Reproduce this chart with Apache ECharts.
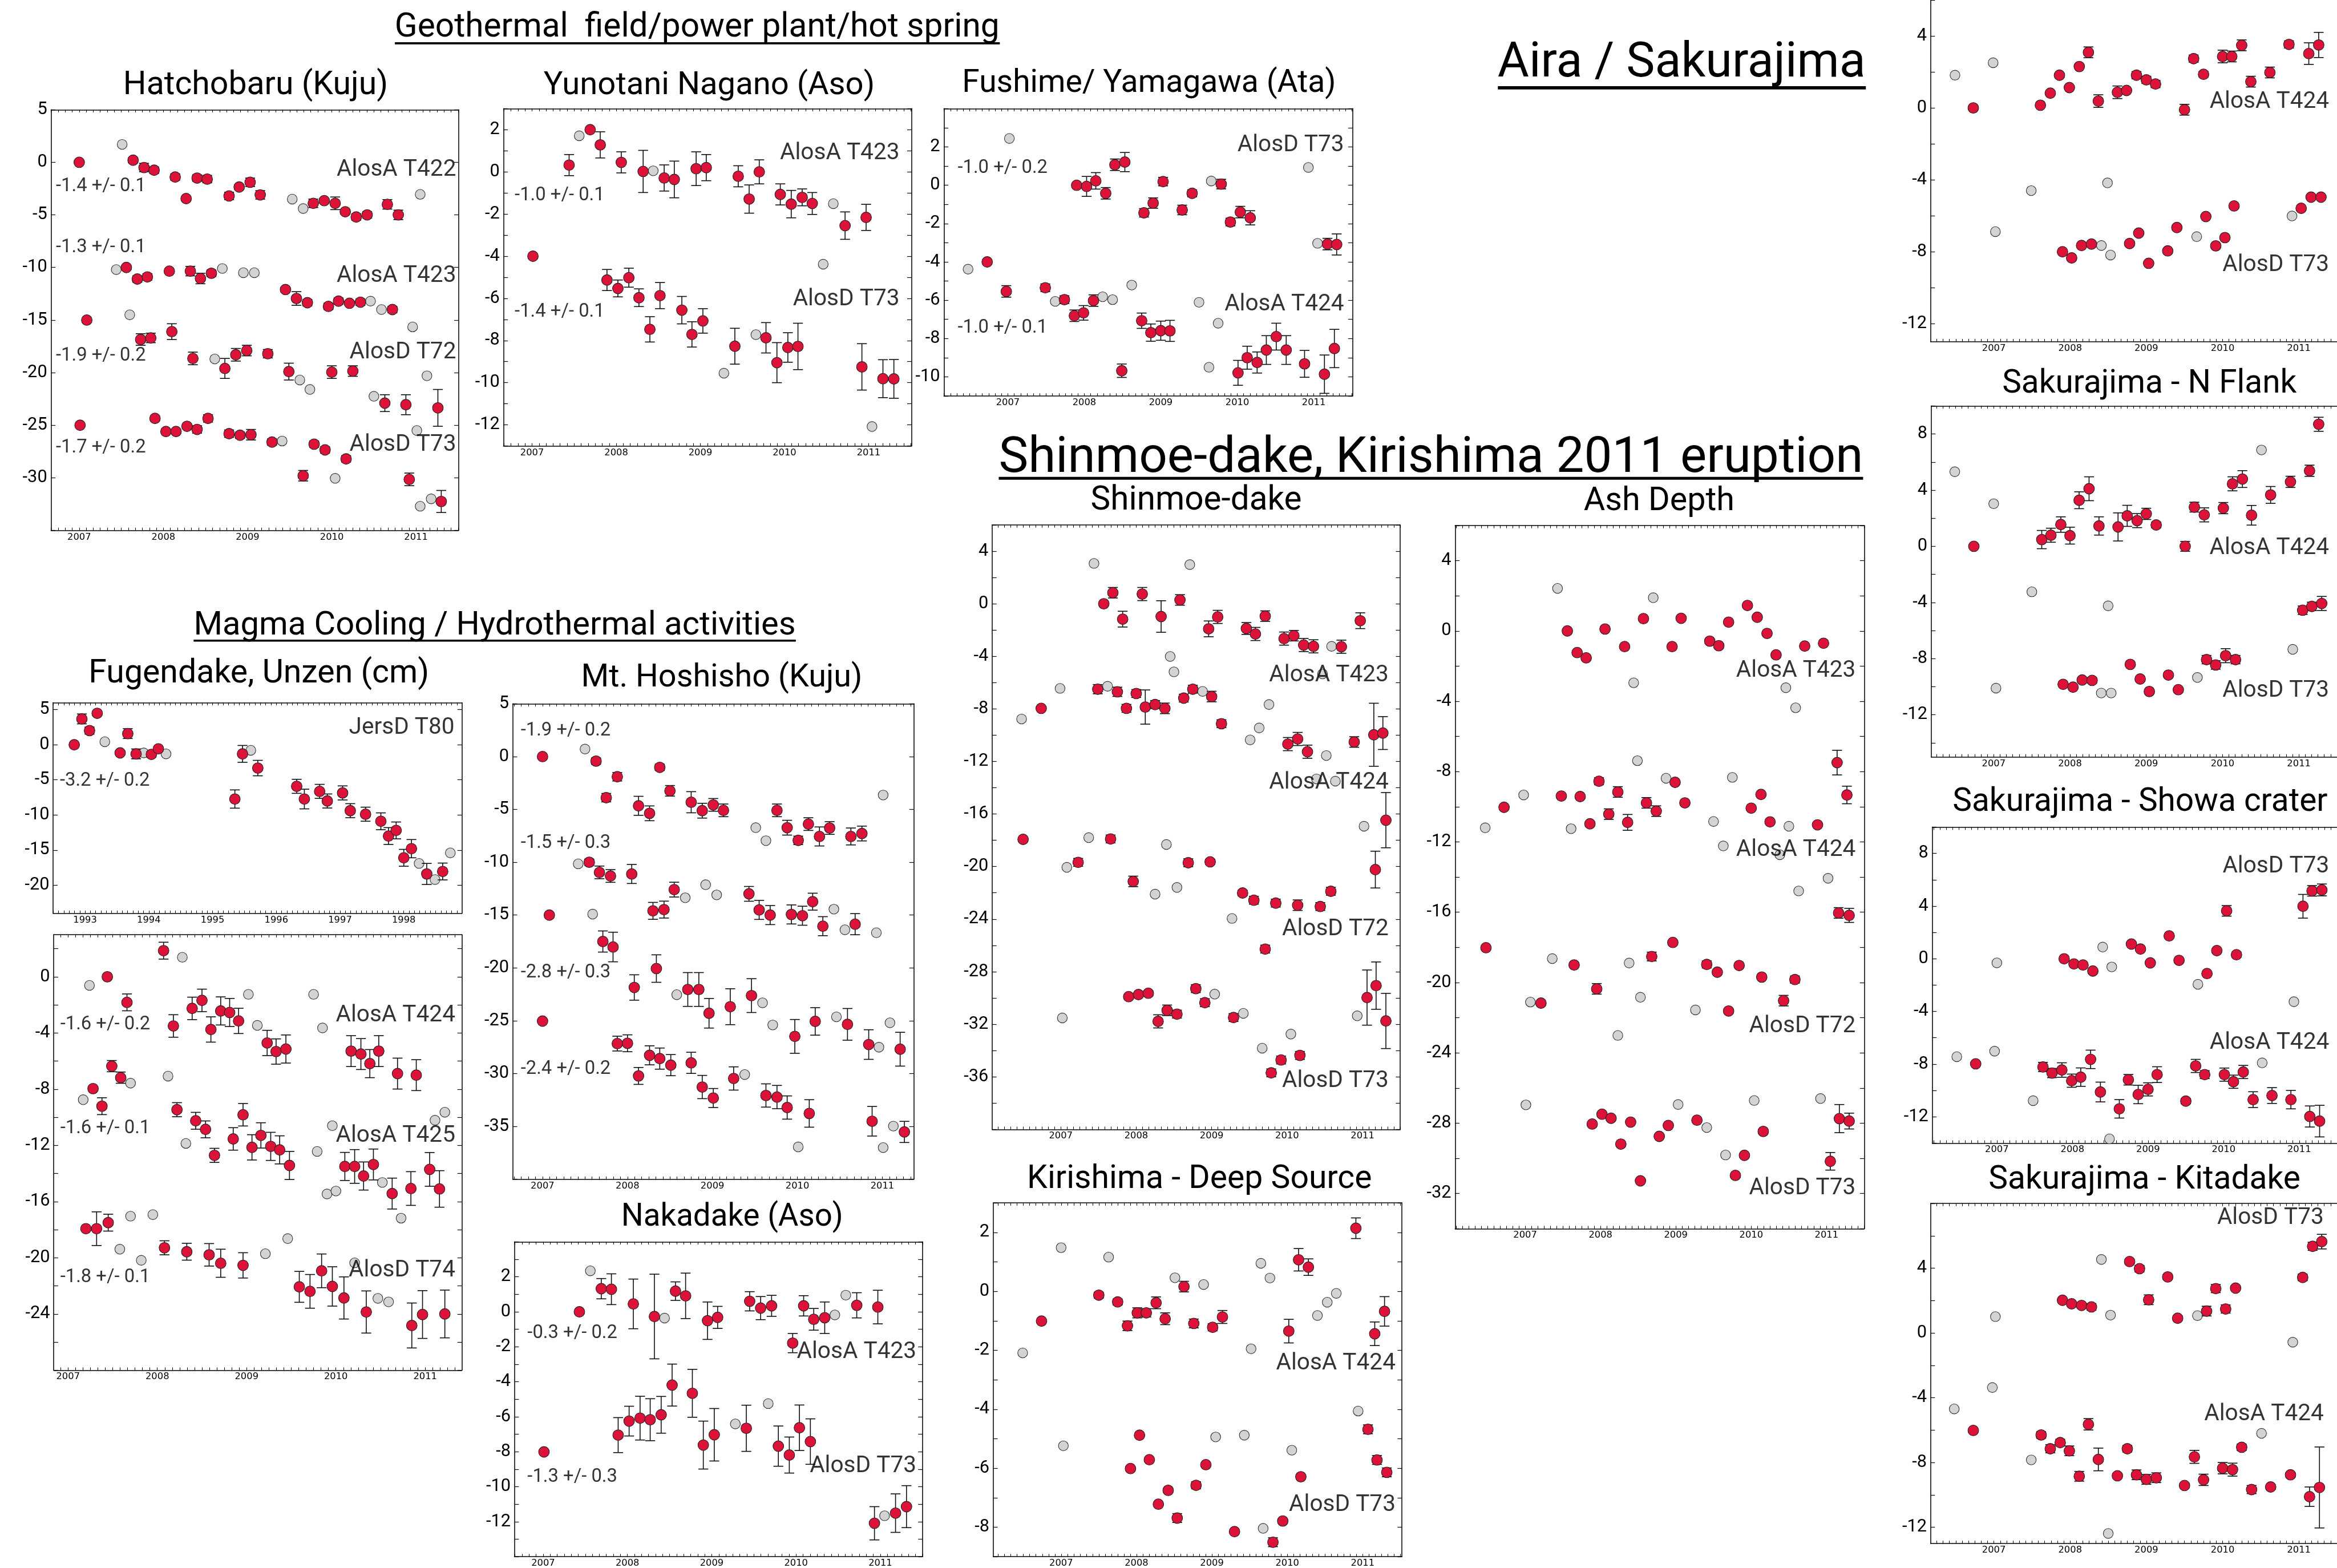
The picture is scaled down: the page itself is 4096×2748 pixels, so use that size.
<!DOCTYPE html>
<html><head><meta charset="utf-8">
<style>html,body{margin:0;padding:0;background:#fff}#c{width:4096px;height:2748px}</style>
<script src="https://cdn.jsdelivr.net/npm/echarts@6/dist/echarts.min.js"></script>
</head><body><div id="c"></div>
<script>
// ---------------- DATA: [year, value(cm), error] for red (InSAR) points, [year, value] for grey points
const yrs07 = [2007, 2008, 2009, 2010, 2011];
const yrs93 = [1993, 1994, 1995, 1996, 1997, 1998];

// Hatchobaru (Kuju)
const hat_A422 = [[2007.00,0,0],[2007.64,0.2,0.25],[2007.77,-0.5,0.4],[2007.89,-0.75,0.3],[2008.14,-1.4,0.3],[2008.27,-3.45,0],[2008.40,-1.5,0.3],[2008.52,-1.6,0.35],[2008.78,-3.2,0.35],[2008.90,-2.35,0.2],[2009.03,-1.9,0.4],[2009.15,-3.1,0.4],[2009.78,-3.9,0.4],[2009.91,-3.65,0.2],[2010.04,-3.9,0.6],[2010.16,-4.7,0.2],[2010.29,-5.2,0.3],[2010.42,-5.0,0.3],[2010.66,-4.0,0.45],[2010.79,-5.0,0.45]];
const hat_A423 = [[2007.56,-10.0,0.2],[2007.69,-11.1,0.3],[2007.81,-10.9,0.3],[2008.07,-10.35,0.2],[2008.32,-10.35,0.45],[2008.44,-11.05,0.5],[2008.57,-10.55,0.3],[2009.45,-12.1,0.25],[2009.58,-12.95,0.65],[2009.71,-13.35,0.3],[2009.96,-13.7,0.3],[2010.08,-13.2,0.3],[2010.21,-13.4,0.2],[2010.34,-13.3,0.3],[2010.72,-14.0,0.3]];
const hat_D72 = [[2007.09,-15.0,0],[2007.73,-16.85,0.55],[2007.85,-16.7,0.45],[2008.10,-16.1,0.75],[2008.35,-18.65,0.6],[2008.73,-19.6,0.95],[2008.86,-18.3,0.6],[2008.99,-17.9,0.5],[2009.24,-18.2,0.4],[2009.49,-19.9,0.8],[2010.00,-19.95,0.6],[2010.25,-19.85,0.5],[2010.63,-22.9,0.8],[2010.88,-23.05,0.95],[2011.26,-23.35,1.75]];
const hat_D73 = [[2007.01,-25.0,0],[2007.90,-24.35,0.25],[2008.03,-25.6,0.2],[2008.15,-25.6,0.2],[2008.28,-25.1,0.2],[2008.40,-25.4,0.35],[2008.53,-24.35,0.35],[2008.78,-25.8,0.35],[2008.91,-25.95,0.3],[2009.04,-25.9,0.5],[2009.29,-26.6,0.3],[2009.66,-29.8,0.5],[2009.79,-26.8,0.3],[2009.92,-27.35,0.3],[2010.17,-28.2,0.3],[2010.92,-30.15,0.6],[2011.30,-32.25,1.05]];
const hat_grey = [[2007.51,1.7],[2009.53,-3.5],[2009.66,-4.4],[2011.05,-3.05],[2007.44,-10.2],[2008.70,-10.1],[2008.95,-10.5],[2009.08,-10.5],[2010.46,-13.2],[2010.59,-14.0],[2010.96,-15.65],[2007.60,-14.5],[2008.61,-18.7],[2009.62,-20.7],[2009.74,-21.6],[2010.50,-22.25],[2011.13,-20.3],[2011.01,-25.5],[2009.41,-26.5],[2010.04,-30.05],[2011.05,-32.7],[2011.18,-32.0]];
const hat_yl = [5,0,-5,-10,-15,-20,-25,-30];
const hat_ann = [[2011.48,-0.75,'AlosA T422','R'],[2006.72,-2.3,'-1.4 +/- 0.1','L'],[2006.72,-8.1,'-1.3 +/- 0.1','L'],[2011.48,-10.8,'AlosA T423','R'],[2006.72,-18.4,'-1.9 +/- 0.2','L'],[2011.48,-18.1,'AlosD T72','R'],[2006.72,-27.15,'-1.7 +/- 0.2','L'],[2011.48,-26.9,'AlosD T73','R']];

// Yunotani Nagano (Aso)
const yun_A423 = [[2007.44,0.32,0.5],[2007.69,2.0,0],[2007.81,1.28,0.62],[2008.06,0.45,0.5],[2008.32,0.02,1.0],[2008.57,-0.29,0.62],[2008.69,-0.36,0.87],[2008.95,0.15,0.8],[2009.07,0.2,0.62],[2009.45,-0.21,0.5],[2009.58,-1.29,0.67],[2009.70,0.0,0.57],[2009.95,-1.07,0.5],[2010.08,-1.53,0.65],[2010.21,-1.21,0.4],[2010.33,-1.5,0.52],[2010.72,-2.55,0.65],[2010.97,-2.16,0.62]];
const yun_D73 = [[2007.01,-4.0,0],[2007.89,-5.13,0.5],[2008.02,-5.53,0.4],[2008.15,-5.02,0.45],[2008.27,-5.97,0.42],[2008.40,-7.47,0.6],[2008.52,-5.87,0.62],[2008.78,-6.56,0.65],[2008.90,-7.71,0.6],[2009.03,-7.07,0.58],[2009.41,-8.27,0.85],[2009.78,-7.87,0.72],[2009.91,-9.05,0.95],[2010.04,-8.33,0.7],[2010.16,-8.28,1.1],[2010.92,-9.25,1.1],[2011.17,-9.81,0.9],[2011.30,-9.82,0.92]];
const yun_grey = [[2007.56,1.71],[2008.44,0.05],[2010.58,-1.51],[2010.46,-4.38],[2009.28,-9.55],[2009.66,-7.72],[2011.04,-12.08]];
const yun_yl = [2,0,-2,-4,-6,-8,-10,-12];
const yun_ann = [[2011.37,0.88,'AlosA T423','R'],[2006.79,-1.12,'-1.0 +/- 0.1','L'],[2011.37,-6.05,'AlosD T73','R'],[2006.79,-6.66,'-1.4 +/- 0.1','L']];

// Fushime / Yamagawa (Ata)
const fus_D73 = [[2007.90,0.0,0],[2008.03,-0.06,0.52],[2008.15,0.23,0.43],[2008.28,-0.42,0.3],[2008.40,1.07,0.3],[2008.53,1.21,0.5],[2008.78,-1.44,0.22],[2008.90,-0.93,0.27],[2009.03,0.19,0.22],[2009.28,-1.29,0.25],[2009.41,-0.42,0.18],[2009.79,0.06,0.25],[2009.91,-1.92,0.2],[2010.04,-1.4,0.3],[2010.17,-1.7,0.37],[2011.18,-3.07,0.3],[2011.30,-3.09,0.55]];
const fus_A424 = [[2006.73,-4.0,0],[2006.98,-5.54,0.3],[2007.49,-5.35,0.2],[2007.74,-5.97,0.2],[2007.87,-6.81,0.3],[2007.99,-6.66,0.38],[2008.12,-6.02,0.3],[2008.49,-9.68,0.35],[2008.75,-7.07,0.4],[2008.87,-7.69,0.45],[2009.0,-7.59,0.5],[2009.12,-7.6,0.55],[2010.01,-9.79,0.65],[2010.13,-9.0,0.6],[2010.26,-9.25,0.55],[2010.38,-8.6,0.75],[2010.51,-7.9,0.7],[2010.64,-8.6,0.75],[2010.88,-9.32,0.7],[2011.14,-9.86,1.0],[2011.27,-8.52,1.0]];
const fus_grey = [[2007.02,2.44],[2009.66,0.22],[2010.93,0.93],[2011.05,-3.03],[2006.48,-4.38],[2007.62,-6.06],[2008.24,-5.82],[2008.37,-5.97],[2008.62,-5.21],[2009.50,-6.11],[2009.75,-7.2],[2009.63,-9.5]];
const fus_yl = [2,0,-2,-4,-6,-8,-10];
const fus_ann = [[2011.40,2.07,'AlosD T73','R'],[2006.34,0.88,'-1.0 +/- 0.2','L'],[2011.40,-6.23,'AlosA T424','R'],[2006.34,-7.45,'-1.0 +/- 0.1','L']];

// Fugendake, Unzen (JERS)
const fug_T80 = [[1992.83,0.0,0],[1992.95,3.68,0.7],[1993.07,2.02,0.5],[1993.19,4.48,0.3],[1993.55,-1.16,0.3],[1993.67,1.59,0.7],[1993.80,-1.3,0.7],[1994.04,-1.37,0.4],[1994.15,-0.58,0.3],[1995.35,-7.73,1.3],[1995.47,-1.3,1.2],[1995.71,-3.32,1.1],[1996.32,-5.92,1.0],[1996.44,-7.73,1.4],[1996.68,-6.64,1.0],[1996.80,-8.01,1.0],[1997.04,-6.86,1.0],[1997.16,-9.39,1.0],[1997.40,-9.89,1.0],[1997.64,-10.9,1.2],[1997.76,-13.0,1.2],[1997.88,-12.2,1.2],[1998.0,-16.1,1.2],[1998.12,-14.8,1.3],[1998.36,-18.4,1.5],[1998.61,-18.05,1.2]];
const fug_grey = [[1993.31,0.43],[1993.92,-1.16],[1994.27,-1.3],[1995.60,-0.79],[1998.24,-16.9],[1998.49,-19.2],[1998.73,-15.4]];
const fug_yl = [5,0,-5,-10,-15,-20];
const fug_ann = [[1998.80,2.38,'JersD T80','R'],[1992.6,-5.2,'-3.2 +/- 0.2','L']];

// Fugendake, Unzen (ALOS)
const unz_A424 = [[2007.44,0.0,0],[2007.66,-1.82,0.6],[2008.07,1.86,0.6],[2008.18,-3.5,0.8],[2008.39,-2.25,0.8],[2008.50,-1.68,0.8],[2008.60,-3.75,0.9],[2008.71,-2.43,1.0],[2008.81,-2.54,1.0],[2008.91,-3.14,0.9],[2009.23,-4.71,0.9],[2009.33,-5.32,0.9],[2009.44,-5.14,1.0],[2010.17,-5.29,1.1],[2010.28,-5.5,1.1],[2010.38,-6.18,1.0],[2010.48,-5.29,1.1],[2010.69,-6.89,1.1],[2010.90,-7.0,1.1]];
const unz_A425 = [[2007.28,-7.96,0],[2007.38,-9.21,0.6],[2007.49,-6.36,0.4],[2007.59,-7.18,0.4],[2008.22,-9.46,0.5],[2008.43,-10.25,0.6],[2008.54,-10.86,0.6],[2008.64,-12.71,0.5],[2008.85,-11.54,0.8],[2008.96,-9.82,0.8],[2009.06,-12.14,0.9],[2009.16,-11.29,0.9],[2009.27,-12.07,1.0],[2009.37,-12.32,1.0],[2009.48,-13.43,1.0],[2010.10,-13.5,1.0],[2010.21,-13.5,1.2],[2010.31,-14.18,1.0],[2010.42,-13.36,1.1],[2010.63,-15.43,1.1],[2010.84,-15.07,1.2],[2011.05,-13.71,1.2],[2011.16,-15.1,1.3]];
const unz_D74 = [[2007.20,-17.93,0],[2007.32,-17.93,1.2],[2007.45,-17.5,0.6],[2008.08,-19.29,0.5],[2008.33,-19.57,0.6],[2008.58,-19.79,0.8],[2008.71,-20.39,1.0],[2008.96,-20.54,0.9],[2009.59,-22.07,1.1],[2009.71,-22.39,1.2],[2009.84,-20.93,1.2],[2009.96,-22.04,1.4],[2010.09,-22.86,1.5],[2010.34,-23.86,1.5],[2010.85,-24.82,1.6],[2010.97,-24.04,1.7],[2011.22,-24.0,1.7]];
const unz_grey = [[2007.24,-0.61],[2008.28,1.39],[2009.02,-1.25],[2009.12,-3.46],[2009.75,-1.25],[2009.85,-3.64],[2007.17,-8.75],[2007.70,-7.57],[2008.12,-7.07],[2008.32,-11.86],[2009.96,-10.6],[2009.79,-12.43],[2009.90,-15.46],[2010.0,-15.25],[2010.52,-14.64],[2010.73,-17.18],[2011.11,-10.21],[2011.22,-9.64],[2007.58,-19.39],[2007.70,-17.04],[2007.82,-20.18],[2007.95,-16.93],[2009.21,-19.71],[2009.46,-18.64],[2010.21,-20.36],[2010.47,-22.89],[2010.59,-23.14]];
const unz_yl = [0,-4,-8,-12,-16,-20,-24];
const unz_ann = [[2011.34,-2.75,'AlosA T424','R'],[2006.91,-3.39,'-1.6 +/- 0.2','L'],[2011.34,-11.32,'AlosA T425','R'],[2006.91,-10.8,'-1.6 +/- 0.1','L'],[2011.34,-20.9,'AlosD T74','R'],[2006.91,-21.4,'-1.8 +/- 0.1','L']];

// Mt. Hoshisho (Kuju)
const hos_A422 = [[2007.0,0,0],[2007.63,-0.43,0.3],[2007.75,-3.89,0.4],[2007.88,-1.91,0.4],[2008.13,-4.66,0.9],[2008.26,-5.37,0.7],[2008.38,-1.02,0.3],[2008.50,-3.24,0.5],[2008.75,-4.32,1.0],[2008.88,-5.12,0.7],[2009.01,-4.57,0.6],[2009.13,-5.09,0.6],[2009.76,-5.09,0.6],[2009.88,-6.73,0.7],[2010.01,-7.93,0.4],[2010.13,-6.39,0.6],[2010.26,-7.56,0.9],[2010.38,-6.76,0.6],[2010.63,-7.56,0.8],[2010.76,-7.28,0.7]];
const hos_A423 = [[2007.08,-15.0,0],[2007.55,-10.0,0.3],[2007.67,-10.96,0.6],[2007.80,-11.3,0.6],[2008.05,-11.11,0.9],[2008.30,-14.6,0.8],[2008.43,-14.48,0.8],[2008.55,-12.59,0.7],[2009.43,-12.99,0.7],[2009.55,-14.51,0.9],[2009.68,-15.0,0.9],[2009.93,-14.94,0.9],[2010.06,-15.06,0.9],[2010.18,-13.73,0.8],[2010.30,-16.05,0.9],[2010.68,-15.86,1.0]];
const hos_D72 = [[2007.71,-17.5,1.0],[2007.83,-18.02,1.4],[2008.08,-21.85,1.2],[2008.34,-20.06,1.3],[2008.71,-22.04,1.6],[2008.84,-22.04,1.6],[2008.96,-24.29,1.4],[2009.21,-23.67,1.7],[2009.46,-22.62,1.6],[2009.97,-26.48,1.6],[2010.21,-25.06,1.3],[2010.59,-25.34,1.5],[2010.84,-27.25,1.4],[2011.21,-27.69,1.6]];
const hos_D73 = [[2007.0,-25.03,0],[2007.88,-27.16,0.7],[2008.00,-27.13,0.8],[2008.13,-30.22,0.8],[2008.26,-28.27,0.9],[2008.38,-28.58,1.0],[2008.51,-29.2,1.0],[2008.75,-28.98,1.0],[2008.88,-31.27,1.1],[2009.01,-32.31,0.9],[2009.25,-30.46,1.1],[2009.63,-32.07,1.1],[2009.76,-32.22,1.1],[2009.88,-33.21,1.1],[2010.14,-33.77,1.3],[2010.88,-34.51,1.4],[2011.26,-35.52,1.0]];
const hos_grey = [[2007.50,0.71],[2009.51,-6.73],[2009.63,-7.96],[2011.01,-3.64],[2007.42,-10.15],[2007.59,-14.91],[2008.68,-13.36],[2008.92,-12.13],[2009.05,-13.09],[2010.43,-14.44],[2010.56,-16.39],[2010.93,-16.67],[2008.58,-22.53],[2009.59,-23.3],[2009.71,-25.4],[2010.46,-24.63],[2010.96,-27.5],[2011.09,-25.19],[2009.38,-30.09],[2010.01,-36.94],[2011.01,-37.0],[2011.13,-34.97]];
const hos_yl = [5,0,-5,-10,-15,-20,-25,-30,-35];
const hos_ann = [[2006.74,2.41,'-1.9 +/- 0.2','L'],[2011.39,-3.09,'AlosA T422','R'],[2006.74,-8.18,'-1.5 +/- 0.3','L'],[2011.39,-11.36,'AlosA T423','R'],[2006.74,-20.46,'-2.8 +/- 0.3','L'],[2011.39,-21.36,'AlosD T72','R'],[2006.74,-29.6,'-2.4 +/- 0.2','L'],[2011.39,-30.86,'AlosD T73','R']];

// Nakadake (Aso)
const nak_A423 = [[2007.43,0.0,0],[2007.69,1.32,0.58],[2007.81,1.29,0.88],[2008.07,0.45,1.42],[2008.32,-0.27,2.42],[2008.57,1.18,0.53],[2008.69,0.91,1.3],[2008.95,-0.51,1.07],[2009.07,-0.32,0.63],[2009.45,0.6,0.55],[2009.58,0.21,0.66],[2009.71,0.34,0.6],[2009.96,-1.79,0.55],[2010.09,0.34,0.58],[2010.21,-0.43,0.62],[2010.34,-0.34,0.9],[2010.72,0.37,0.72],[2010.97,0.27,0.96]];
const nak_D73 = [[2007.01,-8.01,0],[2007.89,-7.05,1.0],[2008.02,-6.25,0.85],[2008.15,-6.08,1.25],[2008.27,-6.17,1.2],[2008.40,-5.89,1.05],[2008.53,-4.19,1.2],[2008.77,-4.66,1.37],[2008.90,-7.62,1.37],[2009.03,-7.03,1.5],[2009.41,-6.66,1.32],[2009.79,-7.68,1.15],[2009.92,-8.19,1.03],[2010.04,-6.63,1.3],[2010.17,-7.42,1.3],[2010.93,-12.09,0.95],[2011.18,-11.51,1.1],[2011.31,-11.14,1.2]];
const nak_grey = [[2007.56,2.34],[2008.44,-0.36],[2010.46,-0.18],[2010.59,0.95],[2009.28,-6.41],[2009.67,-5.25],[2011.05,-11.66]];
const nak_yl = [2,0,-2,-4,-6,-8,-10,-12];
const nak_ann = [[2006.81,-1.22,'-0.3 +/- 0.2','L'],[2011.43,-2.32,'AlosA T423','R'],[2006.81,-9.46,'-1.3 +/- 0.3','L'],[2011.43,-8.85,'AlosD T73','R']];

// Shinmoe-dake
const shi_A423 = [[2007.57,0.0,0],[2007.69,0.84,0.4],[2007.82,-1.17,0.6],[2008.08,0.74,0.5],[2008.33,-0.97,1.2],[2008.58,0.29,0.4],[2008.96,-1.91,0.6],[2009.08,-1.0,0.5],[2009.46,-1.88,0.45],[2009.58,-2.3,0.5],[2009.71,-0.94,0.4],[2009.96,-2.65,0.5],[2010.09,-2.43,0.4],[2010.22,-3.14,0.5],[2010.35,-3.24,0.5],[2010.72,-3.27,0.5],[2010.97,-1.29,0.6]];
const shi_A424 = [[2006.74,-7.96,0],[2007.49,-6.5,0.35],[2007.75,-6.7,0.35],[2007.87,-7.96,0.3],[2008.0,-6.83,0.3],[2008.12,-7.86,1.3],[2008.25,-7.67,0.3],[2008.38,-7.96,0.4],[2008.63,-7.18,0.3],[2008.75,-6.5,0.3],[2009.0,-7.06,0.4],[2009.13,-9.13,0.3],[2010.01,-10.68,0.5],[2010.14,-10.29,0.5],[2010.27,-11.26,0.5],[2010.89,-10.52,0.4],[2011.15,-9.97,2.4],[2011.27,-9.84,1.25]];
const shi_D72 = [[2006.50,-17.93,0],[2007.23,-19.68,0.3],[2007.66,-17.9,0.3],[2007.96,-21.13,0.4],[2008.69,-19.71,0.3],[2008.98,-19.64,0.2],[2009.41,-22.01,0.2],[2009.56,-22.56,0.3],[2009.71,-26.28,0.3],[2009.85,-22.78,0.3],[2010.14,-22.94,0.4],[2010.44,-23.04,0.3],[2010.58,-21.88,0.3],[2011.17,-20.23,1.4],[2011.31,-16.47,2.1]];
const shi_D73 = [[2007.90,-29.9,0],[2008.03,-29.74,0],[2008.16,-29.64,0.2],[2008.29,-31.78,0.5],[2008.41,-30.94,0.4],[2008.54,-31.23,0.3],[2008.79,-29.29,0.3],[2008.91,-30.36,0.3],[2009.29,-31.49,0.3],[2009.79,-35.7,0.3],[2009.92,-34.72,0.3],[2010.17,-34.37,0.3],[2011.06,-29.97,2.1],[2011.18,-29.06,1.8],[2011.31,-31.75,2.1]];
const shi_grey = [[2007.44,3.07],[2008.71,2.98],[2008.45,-4.01],[2008.50,-5.18],[2010.59,-3.24],[2010.47,-5.34],[2006.48,-8.77],[2006.99,-6.44],[2007.62,-6.28],[2008.88,-6.67],[2009.76,-7.67],[2009.63,-9.45],[2009.51,-10.36],[2010.52,-11.55],[2010.39,-13.33],[2010.64,-13.5],[2011.02,-16.93],[2007.08,-20.06],[2007.37,-17.8],[2008.25,-22.1],[2008.40,-18.32],[2008.54,-21.59],[2009.27,-23.95],[2007.02,-31.52],[2009.04,-29.71],[2009.42,-31.17],[2009.67,-33.82],[2010.05,-32.75],[2010.93,-31.36]];
const shi_yl = [4,0,-4,-8,-12,-16,-20,-24,-28,-32,-36];
const shi_ann = [[2011.35,-5.44,'AlosA T423','R'],[2011.35,-13.62,'AlosA T424','R'],[2011.35,-24.79,'AlosD T72','R'],[2011.35,-36.34,'AlosD T73','R']];

// Ash Depth
const ash_A423 = [[2007.56,0.0,0],[2007.69,-1.23,0],[2007.81,-1.53,0],[2008.06,0.11,0],[2008.32,-0.89,0],[2008.57,0.70,0],[2008.95,-0.89,0],[2009.07,0.72,0],[2009.45,-0.58,0],[2009.57,-0.84,0],[2009.70,0.5,0],[2009.95,1.45,0],[2010.08,0.78,0],[2010.21,-0.14,0],[2010.33,-1.36,0],[2010.71,-0.86,0],[2010.96,-0.7,0]];
const ash_A424 = [[2006.72,-10.03,0],[2007.48,-9.39,0],[2007.73,-9.42,0],[2007.86,-10.97,0],[2007.98,-8.55,0.2],[2008.11,-10.42,0.3],[2008.23,-9.16,0.3],[2008.36,-10.89,0.45],[2008.61,-9.78,0.3],[2008.74,-10.25,0.3],[2008.99,-8.61,0],[2009.12,-9.78,0],[2010.0,-10.08,0],[2010.13,-9.3,0],[2010.25,-10.86,0],[2010.88,-11.03,0],[2011.14,-7.49,0.7],[2011.27,-9.33,0.5]];
const ash_D72 = [[2006.48,-18.02,0],[2007.21,-21.17,0],[2007.65,-19.0,0],[2007.95,-20.36,0.3],[2008.68,-18.52,0.25],[2008.96,-17.72,0],[2009.41,-18.97,0.2],[2009.55,-19.41,0],[2009.70,-21.62,0],[2009.84,-19.03,0],[2010.14,-19.69,0],[2010.43,-21.03,0.3],[2010.58,-19.83,0.2],[2011.16,-16.04,0.3],[2011.30,-16.18,0.4]];
const ash_D73 = [[2007.89,-28.05,0],[2008.02,-27.49,0],[2008.14,-27.72,0],[2008.27,-29.19,0],[2008.40,-27.94,0],[2008.53,-31.28,0],[2008.78,-28.75,0],[2008.90,-28.13,0],[2009.28,-27.83,0],[2009.79,-30.97,0],[2009.91,-29.83,0],[2010.16,-28.47,0],[2011.05,-30.17,0.5],[2011.17,-27.74,0.8],[2011.30,-27.88,0.45]];
const ash_grey = [[2007.43,2.42],[2008.70,1.89],[2008.44,-2.95],[2010.46,-3.23],[2010.59,-4.37],[2006.47,-11.2],[2006.98,-9.33],[2007.61,-11.25],[2008.49,-7.38],[2008.87,-8.38],[2009.50,-10.84],[2009.63,-12.23],[2009.75,-8.33],[2010.38,-12.73],[2010.50,-11.11],[2010.63,-14.79],[2011.02,-14.07],[2007.07,-21.11],[2007.36,-18.64],[2008.23,-23.01],[2008.38,-18.89],[2008.53,-20.84],[2009.26,-21.56],[2007.01,-26.96],[2009.03,-26.94],[2009.41,-28.25],[2009.66,-29.81],[2010.04,-26.71],[2010.92,-26.6]];
const ash_yl = [4,0,-4,-8,-12,-16,-20,-24,-28,-32];
const ash_ann = [[2011.39,-2.28,'AlosA T423','R'],[2011.39,-12.48,'AlosA T424','R'],[2011.39,-22.5,'AlosD T72','R'],[2011.39,-31.7,'AlosD T73','R']];

// Kirishima - Deep Source
const kir_A424 = [[2006.74,-1.01,0],[2007.50,-0.13,0.1],[2007.75,-0.36,0.1],[2007.88,-1.17,0.16],[2008.01,-0.73,0.17],[2008.13,-0.73,0.14],[2008.26,-0.39,0.2],[2008.38,-0.93,0.2],[2008.63,0.16,0.18],[2008.76,-1.09,0.15],[2009.01,-1.22,0.12],[2009.14,-0.87,0.22],[2010.02,-1.35,0.4],[2010.15,1.07,0.38],[2010.28,0.82,0.28],[2010.91,2.14,0.35],[2011.16,-1.44,0.4],[2011.29,-0.68,0.5]];
const kir_D73 = [[2007.92,-6.01,0],[2008.04,-4.88,0],[2008.17,-5.71,0],[2008.29,-7.22,0],[2008.42,-6.75,0],[2008.54,-7.69,0.15],[2008.79,-6.58,0.12],[2008.92,-5.88,0],[2009.30,-8.15,0],[2009.81,-8.51,0.15],[2009.94,-7.79,0],[2010.18,-6.29,0],[2011.07,-4.68,0.15],[2011.19,-5.72,0.15],[2011.32,-6.14,0.15]];
const kir_grey = [[2006.49,-2.09],[2007.0,1.48],[2007.63,1.16],[2008.51,0.46],[2008.89,0.23],[2009.52,-1.95],[2009.65,0.95],[2009.77,0.45],[2010.40,-0.82],[2010.53,-0.37],[2010.65,-0.07],[2007.03,-5.24],[2009.05,-4.94],[2009.43,-4.88],[2009.68,-8.04],[2010.06,-5.39],[2010.94,-4.06]];
const kir_yl = [2,0,-2,-4,-6,-8];
const kir_ann = [[2011.44,-2.46,'AlosA T424','R'],[2011.44,-7.25,'AlosD T73','R']];

// Aira / Sakurajima
const air_A424 = [[2006.73,0.0,0],[2007.61,0.15,0.1],[2007.74,0.82,0],[2007.86,1.82,0],[2007.99,1.13,0],[2008.12,2.3,0],[2008.24,3.09,0.3],[2008.37,0.38,0.35],[2008.62,0.87,0.35],[2008.74,0.97,0],[2008.87,1.82,0.2],[2009.0,1.56,0.2],[2009.12,1.33,0.2],[2009.50,-0.1,0.3],[2009.62,2.74,0.2],[2009.75,1.87,0.15],[2010.0,2.86,0.35],[2010.12,2.86,0.3],[2010.25,3.48,0.3],[2010.37,1.46,0.3],[2010.62,1.97,0.3],[2010.87,3.53,0.2],[2011.13,3.02,0.6],[2011.26,3.5,0.7]];
const air_D73 = [[2007.90,-8.0,0],[2008.02,-8.34,0],[2008.15,-7.65,0],[2008.28,-7.57,0],[2008.78,-7.54,0],[2008.90,-6.96,0],[2009.03,-8.64,0],[2009.28,-7.95,0],[2009.40,-6.65,0],[2009.78,-6.04,0],[2009.91,-7.67,0],[2010.03,-7.21,0],[2010.15,-5.45,0],[2011.03,-5.58,0],[2011.16,-4.96,0],[2011.29,-4.96,0]];
const air_grey = [[2006.49,1.82],[2006.99,2.51],[2007.02,-6.88],[2007.49,-4.6],[2008.49,-4.17],[2008.41,-7.65],[2008.53,-8.18],[2009.66,-7.16],[2010.91,-6.01]];
const air_yl = [4,0,-4,-8,-12];
const air_ann = [[2011.40,0.31,'AlosA T424','R'],[2011.40,-8.75,'AlosD T73','R']];

// Sakurajima - N Flank
const nfl_A424 = [[2006.74,0.0,0],[2007.63,0.48,0.65],[2007.75,0.79,0.5],[2007.88,1.55,0.55],[2008.0,0.76,0.6],[2008.12,3.28,0.6],[2008.25,4.1,0.85],[2008.38,1.45,0.65],[2008.63,1.38,1.0],[2008.75,2.17,0.75],[2008.88,1.83,0.5],[2009.0,2.31,0.4],[2009.13,1.52,0.2],[2009.51,0.0,0.35],[2009.63,2.79,0.35],[2009.76,2.24,0.5],[2010.01,2.72,0.4],[2010.13,4.45,0.5],[2010.26,4.79,0.6],[2010.38,2.21,0.7],[2010.63,3.66,0.6],[2010.89,4.59,0.4],[2011.14,5.38,0.4],[2011.26,8.69,0.5]];
const nfl_D73 = [[2007.91,-9.83,0],[2008.04,-10.03,0],[2008.16,-9.52,0],[2008.29,-9.55,0.2],[2008.79,-8.41,0],[2008.92,-9.45,0],[2009.04,-10.34,0],[2009.29,-9.17,0],[2009.42,-10.21,0],[2009.79,-8.07,0.3],[2009.91,-8.45,0.3],[2010.04,-7.79,0.5],[2010.17,-8.07,0.3],[2011.05,-4.55,0.3],[2011.17,-4.28,0.3],[2011.30,-4.07,0.5]];
const nfl_grey = [[2006.49,5.31],[2007.0,3.03],[2007.50,-3.24],[2008.50,-4.24],[2010.51,6.86],[2010.92,-7.34],[2007.03,-10.1],[2008.41,-10.45],[2008.54,-10.45],[2009.67,-9.34]];
const nfl_yl = [8,4,0,-4,-8,-12];
const nfl_ann = [[2011.40,-0.14,'AlosA T424','R'],[2011.40,-10.31,'AlosD T73','R']];

// Sakurajima - Showa crater
const sho_D73 = [[2007.89,0.0,0],[2008.02,-0.39,0],[2008.14,-0.47,0],[2008.27,-0.93,0],[2008.78,1.12,0],[2008.90,0.74,0],[2009.03,-0.31,0],[2009.28,1.74,0],[2009.41,-0.12,0],[2009.78,-1.12,0],[2009.91,0.62,0],[2010.04,3.64,0.4],[2010.17,0.31,0.2],[2011.05,3.99,0.9],[2011.17,5.16,0.4],[2011.30,5.23,0.45]];
const sho_A424 = [[2006.72,-7.98,0],[2007.61,-8.22,0.35],[2007.73,-8.68,0.35],[2007.86,-8.45,0.55],[2007.99,-9.26,0.5],[2008.11,-8.99,0.7],[2008.24,-7.64,0.7],[2008.37,-10.12,0.75],[2008.62,-11.4,0.7],[2008.74,-9.19,0.4],[2008.87,-10.31,0.7],[2009.0,-9.92,0.5],[2009.12,-8.8,0.6],[2009.50,-10.81,0.2],[2009.63,-8.14,0.5],[2009.75,-8.8,0.3],[2010.01,-8.8,0.5],[2010.13,-9.34,0.5],[2010.26,-8.6,0.5],[2010.39,-10.7,0.6],[2010.64,-10.39,0.6],[2010.89,-10.7,0.7],[2011.14,-11.98,0.8],[2011.27,-12.33,1.2]];
const sho_grey = [[2007.0,-0.31],[2008.40,0.89],[2008.52,-0.62],[2009.66,-1.94],[2010.93,-3.26],[2006.47,-7.44],[2006.97,-7.02],[2007.48,-10.78],[2008.49,-13.68],[2010.51,-7.91]];
const sho_yl = [8,4,0,-4,-8,-12];
const sho_ann = [[2011.40,6.98,'AlosD T73','R'],[2011.40,-6.4,'AlosA T424','R']];

// Sakurajima - Kitadake
const kit_D73 = [[2007.90,2.02,0],[2008.02,1.8,0],[2008.15,1.7,0],[2008.28,1.61,0.2],[2008.78,4.41,0.15],[2008.91,3.97,0.2],[2009.03,2.05,0.3],[2009.28,3.46,0.15],[2009.41,0.91,0.15],[2009.79,1.35,0.3],[2009.91,2.74,0.25],[2010.04,1.48,0.25],[2010.17,2.77,0.15],[2011.05,3.43,0.2],[2011.18,5.35,0.25],[2011.30,5.64,0.45]];
const kit_A424 = [[2006.73,-6.02,0],[2007.62,-6.3,0.2],[2007.74,-7.15,0.25],[2007.87,-6.77,0.2],[2007.99,-7.28,0.3],[2008.12,-8.85,0.3],[2008.24,-5.64,0.35],[2008.37,-7.81,0.7],[2008.62,-8.82,0.15],[2008.75,-7.15,0.2],[2008.87,-8.76,0.3],[2009.0,-9.04,0.3],[2009.13,-8.94,0.3],[2009.50,-9.42,0.15],[2009.63,-7.65,0.4],[2009.75,-9.07,0.35],[2010.0,-8.35,0.35],[2010.13,-8.44,0.4],[2010.25,-7.06,0.2],[2010.38,-9.67,0.25],[2010.63,-9.51,0.15],[2010.89,-8.76,0.15],[2011.14,-10.11,0.6],[2011.27,-9.54,2.5]];
const kit_grey = [[2007.02,1.01],[2008.41,4.54],[2008.53,1.1],[2009.67,1.07],[2010.92,-0.57],[2006.48,-4.69],[2006.98,-3.37],[2007.49,-7.84],[2008.50,-12.38],[2010.51,-6.2]];
const kit_yl = [4,0,-4,-8,-12];
const kit_ann = [[2011.33,7.09,'AlosD T73','R'],[2011.33,-5.04,'AlosA T424','R']];

// ---------------- LAYOUT (reference pixels, scaled by S)
const S = 4096 / 4261;
const FONT = 'Roboto, "Open Sans", sans-serif';
const panels = [
 {title:'Hatchobaru (Kuju)', tc:[466,157,483], rect:[93,200,836,967], x:[2006.665,2011.505], xl:yrs07, y:[-35,5], yl:hat_yl, ys:5, red:[hat_A422,hat_A423,hat_D72,hat_D73], grey:hat_grey, ann:hat_ann},
 {title:'Yunotani Nagano (Aso)', tc:[1293,157,604], rect:[918,198,1662,813], x:[2006.66,2011.51], xl:yrs07, y:[-13,3], yl:yun_yl, ys:1, red:[yun_A423,yun_D73], grey:yun_grey, ann:yun_ann},
 {title:'Fushime/ Yamagawa (Ata)', tc:[2095,153,682], rect:[1721,198,2466,722], x:[2006.164,2011.507], xl:yrs07, y:[-11,4], yl:fus_yl, ys:1, red:[fus_D73,fus_A424], grey:fus_grey, ann:fus_ann},
 {title:'Fugendake, Unzen (cm)', tc:[472,1229,621], rect:[97,1281,842,1665], x:[1992.5,1998.91], xl:yrs93, y:[-24,6], yl:fug_yl, ys:5, red:[fug_T80], grey:fug_grey, ann:fug_ann},
 {title:null, rect:[98,1704,842,2498], x:[2006.84,2011.41], xl:yrs07, y:[-28,3], yl:unz_yl, ys:2, red:[unz_A424,unz_A425,unz_D74], grey:unz_grey, ann:unz_ann},
 {title:'Mt. Hoshisho (Kuju)', tc:[1316,1237,513], rect:[935,1283,1666,2150], x:[2006.65,2011.37], xl:yrs07, y:[-40,5], yl:hos_yl, ys:5, red:[hos_A422,hos_A423,hos_D72,hos_D73], grey:hos_grey, ann:hos_ann},
 {title:'Nakadake (Aso)', tc:[1335,2220,405], rect:[938,2264,1682,2841], x:[2006.66,2011.50], xl:yrs07, y:[-14,4], yl:nak_yl, ys:1, red:[nak_A423,nak_D73], grey:nak_grey, ann:nak_ann},
 {title:'Shinmoe-dake', tc:[2181,914,385], rect:[1809,957,2553,2059], x:[2006.09,2011.50], xl:yrs07, y:[-40,6], yl:shi_yl, ys:2, red:[shi_A423,shi_A424,shi_D72,shi_D73], grey:shi_grey, ann:shi_ann},
 {title:'Ash Depth', tc:[3025,915,275], rect:[2653,958,3399,2240], x:[2006.07,2011.50], xl:yrs07, y:[-34,6], yl:ash_yl, ys:2, red:[ash_A423,ash_A424,ash_D72,ash_D73], grey:ash_grey, ann:ash_ann},
 {title:'Kirishima - Deep Source', tc:[2187,2151,629], rect:[1811,2193,2556,2852], x:[2006.10,2011.52], xl:yrs07, y:[-9,3], yl:kir_yl, ys:1, red:[kir_A424,kir_D73], grey:kir_grey, ann:kir_ann},
 {title:null, rect:[3520,-40,4266,623], x:[2006.17,2011.5], xl:yrs07, y:[-13,6], yl:air_yl, ys:2, red:[air_A424,air_D73], grey:air_grey, ann:air_ann, noTop:true, noRight:true},
 {title:'Sakurajima - N Flank', tc:[3919,701,537], rect:[3521,740,4266,1380], x:[2006.18,2011.5], xl:yrs07, y:[-15,10], yl:nfl_yl, ys:2, red:[nfl_A424,nfl_D73], grey:nfl_grey, ann:nfl_ann, noRight:true},
 {title:'Sakurajima - Showa crater', tc:[3902,1463,684], rect:[3523,1508,4268,2084], x:[2006.145,2011.5], xl:yrs07, y:[-14,10], yl:sho_yl, ys:2, red:[sho_D73,sho_A424], grey:sho_grey, ann:sho_ann, noRight:true},
 {title:'Sakurajima - Kitadake', tc:[3910,2152,569], rect:[3520,2194,4266,2814], x:[2006.17,2011.5], xl:yrs07, y:[-13,8], yl:kit_yl, ys:2, red:[kit_D73,kit_A424], grey:kit_grey, ann:kit_ann, noRight:true}
];
const sections = [
 {text:'Geothermal  field/power plant/hot spring', cx:1271, cy:51, w:1103, uy:79, ux:[720,1823], lw:4},
 {text:'Magma Cooling / Hydrothermal activities', cx:902, cy:1142, w:1098, uy:1168, ux:[353,1451], lw:3.5},
 {text:'Aira / Sakurajima', cx:3066, cy:117, w:671, uy:160, ux:[2731,3402], lw:6},
 {text:'Shinmoe-dake, Kirishima 2011 eruption', cx:2609, cy:838, w:1576, uy:872, ux:[1821,3397], lw:5}
];

const mctx = document.createElement('canvas').getContext('2d');
function fitSize(text, targetRef, family) {
  mctx.font = '100px ' + family;
  return targetRef * S * 100 / mctx.measureText(text).width;
}
const annFs = fitSize('AlosA T422', 218, FONT);
const rateFs = fitSize('-1.4 +/- 0.1', 164, FONT);

const grid = [], xAxis = [], yAxis = [], series = [], graphic = [];
const BLACK = '#000';
panels.forEach((p, i) => {
  const [l, t, r, b] = p.rect;
  grid.push({left: l*S, top: t*S, width: (r-l)*S, height: (b-t)*S, show: false});
  const months = [];
  for (let m = Math.ceil(p.x[0]*12); m <= Math.floor(p.x[1]*12); m++) months.push(m/12);
  const yt = [];
  for (let v = Math.ceil(p.y[0]/p.ys)*p.ys; v <= p.y[1] + 1e-9; v += p.ys) yt.push(v);
  const line = {show: true, onZero: false, lineStyle: {color: BLACK, width: 1.6*S}};
  const hidden = {show: false};
  xAxis.push({type:'value', gridIndex:i, position:'bottom', min:p.x[0], max:p.x[1], axisLine:line, splitLine:hidden,
    axisTick:{show:true, inside:true, length:5*S, customValues:months, lineStyle:{color:BLACK, width:1}},
    axisLabel:{show:true, customValues:p.xl, fontSize:17*S, fontFamily:'"DejaVu Sans", sans-serif', color:BLACK, margin:4*S, formatter:v=>String(Math.round(v))}});
  xAxis.push({type:'value', gridIndex:i, position:'top', min:p.x[0], max:p.x[1], axisLine:p.noTop?hidden:line, splitLine:hidden,
    axisTick:p.noTop?hidden:{show:true, inside:true, length:5*S, customValues:months, lineStyle:{color:BLACK, width:1}},
    axisLabel:hidden});
  yAxis.push({type:'value', gridIndex:i, position:'left', min:p.y[0], max:p.y[1], axisLine:line, splitLine:hidden,
    axisTick:{show:true, inside:true, length:8*S, customValues:yt, lineStyle:{color:BLACK, width:1.2}},
    axisLabel:{show:true, customValues:p.yl, fontSize:32*S, fontFamily:FONT, color:BLACK, margin:7*S, formatter:v=>String(v)}});
  yAxis.push({type:'value', gridIndex:i, position:'right', min:p.y[0], max:p.y[1], axisLine:p.noRight?hidden:line, splitLine:hidden,
    axisTick:p.noRight?hidden:{show:true, inside:true, length:8*S, customValues:yt, lineStyle:{color:BLACK, width:1.2}},
    axisLabel:hidden});
  const xi = 2*i, yi = 2*i;
  series.push({type:'scatter', xAxisIndex:xi, yAxisIndex:yi, data:p.grey, symbolSize:18*S, z:2, silent:true,
    itemStyle:{color:'#d3d3d3', borderColor:'#333', borderWidth:1.1, opacity:1}});
  p.red.forEach(arr => {
    series.push({type:'custom', xAxisIndex:xi, yAxisIndex:yi, data:arr, z:3, silent:true,
      encode:{x:0, y:1},
      renderItem:(params, api) => {
        const x = api.value(0), y = api.value(1), e = api.value(2);
        if (!e) return null;
        const a = api.coord([x, y+e]), c = api.coord([x, y-e]);
        const hw = 9*S, st = {stroke:'#111', lineWidth:1.7*S};
        return {type:'group', children:[
          {type:'line', shape:{x1:a[0], y1:a[1], x2:c[0], y2:c[1]}, style:st},
          {type:'line', shape:{x1:a[0]-hw, y1:a[1], x2:a[0]+hw, y2:a[1]}, style:st},
          {type:'line', shape:{x1:c[0]-hw, y1:c[1], x2:c[0]+hw, y2:c[1]}, style:st}
        ]};
      }});
    series.push({type:'scatter', xAxisIndex:xi, yAxisIndex:yi, data:arr.map(d=>[d[0], d[1]]), symbolSize:19.5*S, z:4, silent:true,
      itemStyle:{color:'#dc1238', borderColor:'#222', borderWidth:1.1, opacity:1}});
  });
  series.push({type:'scatter', xAxisIndex:xi, yAxisIndex:yi, symbolSize:1, z:6, silent:true,
    itemStyle:{color:'rgba(0,0,0,0)'},
    data:p.ann.map(a => ({value:[a[0], a[1]], label:{show:true, formatter:a[2], position:a[3]==='R'?'left':'right', distance:0,
      fontSize:(a[2].indexOf('+/-')>=0 ? rateFs : annFs), fontFamily:FONT, color:BLACK}}))});
  if (p.title) {
    graphic.push({type:'text', x:p.tc[0]*S, y:p.tc[1]*S, silent:true,
      style:{text:p.title, fontSize:fitSize(p.title, p.tc[2], FONT), fontFamily:FONT, fill:BLACK, align:'center', verticalAlign:'middle'}});
  }
});
sections.forEach(s => {
  graphic.push({type:'text', x:s.cx*S, y:s.cy*S, silent:true,
    style:{text:s.text, fontSize:fitSize(s.text, s.w, FONT), fontFamily:FONT, fill:BLACK, align:'center', verticalAlign:'middle'}});
  graphic.push({type:'line', silent:true, shape:{x1:s.ux[0]*S, y1:s.uy*S, x2:s.ux[1]*S, y2:s.uy*S}, style:{stroke:BLACK, lineWidth:s.lw*S}});
});

const chart = echarts.init(document.getElementById('c'), null, {renderer:'canvas', width:4096, height:2748});
chart.setOption({animation:false, backgroundColor:'#fff', grid, xAxis, yAxis, series, graphic});
</script>
</body></html>
